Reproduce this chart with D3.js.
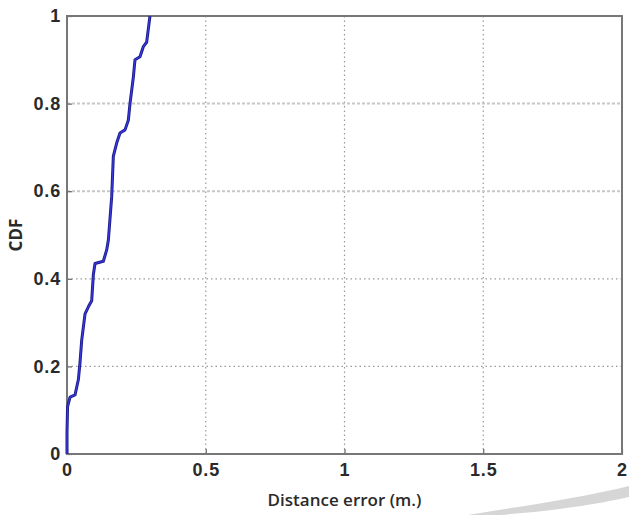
<!DOCTYPE html>
<html>
<head>
<meta charset="utf-8">
<script src="https://cdn.jsdelivr.net/npm/d3@7"></script>
<style>
  html, body { margin: 0; padding: 0; background: #fff; }
  svg { display: block; }
</style>
</head>
<body>
<div id="chart"></div>
<script>
// Empirical CDF of the distance error (metres)
const errorX = [0.000, 0.000, 0.002, 0.011, 0.029, 0.041, 0.047, 0.053, 0.065, 0.077, 0.089,
                0.095, 0.101, 0.131, 0.143, 0.149, 0.161, 0.167, 0.179, 0.191, 0.209, 0.221,
                0.227, 0.239, 0.245, 0.263, 0.275, 0.287, 0.293, 0.299];
const cdfY   = [0.000, 0.048, 0.108, 0.130, 0.135, 0.170, 0.210, 0.260, 0.320, 0.336, 0.350,
                0.410, 0.435, 0.440, 0.466, 0.488, 0.587, 0.680, 0.710, 0.733, 0.740, 0.762,
                0.800, 0.860, 0.900, 0.907, 0.930, 0.940, 0.970, 1.000];
const xTicks = [0, 0.5, 1, 1.5, 2];
const yTicks = [0, 0.2, 0.4, 0.6, 0.8, 1];
const xTickLabels = ["0", "0.5", "1", "1.5", "2"];
const yTickLabels = ["0", "0.2", "0.4", "0.6", "0.8", "1"];

const W = 629, H = 515;
const margin = { left: 67, right: 7, top: 16, bottom: 61 };

const svg = d3.select("#chart").append("svg")
  .attr("width", W).attr("height", H);

const x = d3.scaleLinear().domain([0, 2]).range([margin.left, W - margin.right]);
const y = d3.scaleLinear().domain([0, 1]).range([H - margin.bottom, margin.top]);

// faint decorative swoosh in the lower right corner
svg.append("path")
  .attr("d", "M468,515 C530,505 585,497 629,486 L629,497 C590,506 540,512 500,515 Z")
  .attr("fill", "#d6d6d6");

// dotted grid
const grid = svg.append("g");
grid.selectAll("line.gx").data(xTicks.slice(1, -1)).join("line")
  .attr("x1", d => x(d)).attr("x2", d => x(d))
  .attr("y1", y(0)).attr("y2", y(1))
  .attr("stroke", "#9a9a9a").attr("stroke-width", 1.2)
  .attr("stroke-dasharray", "1.5,3");
grid.selectAll("line.gy").data(yTicks.slice(1, -1)).join("line")
  .attr("x1", x(0)).attr("x2", x(2))
  .attr("y1", d => y(d)).attr("y2", d => y(d))
  .attr("stroke", (d) => d >= 0.6 ? "#c8c8c8" : "#9a9a9a")
  .attr("stroke-width", d => d >= 0.6 ? 2 : 1.2)
  .attr("stroke-dasharray", d => d >= 0.6 ? "3,2" : "1.5,3");

// axes
const tickFont = "'Liberation Sans', Arial, sans-serif";
const font = "'Open Sans', 'DejaVu Sans', sans-serif";
const xAxis = svg.append("g")
  .attr("transform", `translate(0,${y(0)})`)
  .call(d3.axisBottom(x).tickValues(xTicks).tickFormat((d, i) => xTickLabels[i])
    .tickSizeInner(-5).tickSizeOuter(0).tickPadding(9));
const yAxis = svg.append("g")
  .attr("transform", `translate(${x(0)},0)`)
  .call(d3.axisLeft(y).tickValues(yTicks).tickFormat((d, i) => yTickLabels[i])
    .tickSizeInner(-5).tickSizeOuter(0).tickPadding(6));
[xAxis, yAxis].forEach(g => {
  g.select(".domain").remove();
  g.selectAll(".tick line").attr("stroke", "#666").attr("stroke-width", 1.2);
  g.selectAll(".tick text")
    .attr("fill", "#2a2a2a").style("font-family", tickFont)
    .style("font-size", "18px").style("font-weight", "700")
    .style("letter-spacing", "0.8px");
});

// box around the plot
svg.append("rect")
  .attr("x", x(0)).attr("y", y(1))
  .attr("width", x(2) - x(0)).attr("height", y(0) - y(1))
  .attr("fill", "none").attr("stroke", "#777").attr("stroke-width", 2);

// CDF curve
const line = d3.line().x((d, i) => x(errorX[i])).y(d => y(d));
svg.append("path")
  .datum(cdfY)
  .attr("d", line)
  .attr("fill", "none")
  .attr("stroke", "#1c1c8c")
  .attr("stroke-width", 3)
  .attr("stroke-linejoin", "round");
svg.append("path")
  .datum(cdfY)
  .attr("d", line)
  .attr("fill", "none")
  .attr("stroke", "#3a3ae0")
  .attr("stroke-width", 1.2)
  .attr("stroke-linejoin", "round");

// axis titles
svg.append("text")
  .attr("x", (x(0) + x(2)) / 2).attr("y", 506)
  .attr("text-anchor", "middle")
  .style("font-family", font).style("font-size", "17px").style("font-weight", "600")
  .attr("fill", "#2a2a2a")
  .text("Distance error (m.)");
svg.append("text")
  .attr("transform", `translate(22,${(y(0) + y(1)) / 2}) rotate(-90)`)
  .attr("text-anchor", "middle")
  .style("font-family", font).style("font-size", "17px").style("font-weight", "700")
  .attr("fill", "#2a2a2a")
  .text("CDF");
</script>
</body>
</html>
